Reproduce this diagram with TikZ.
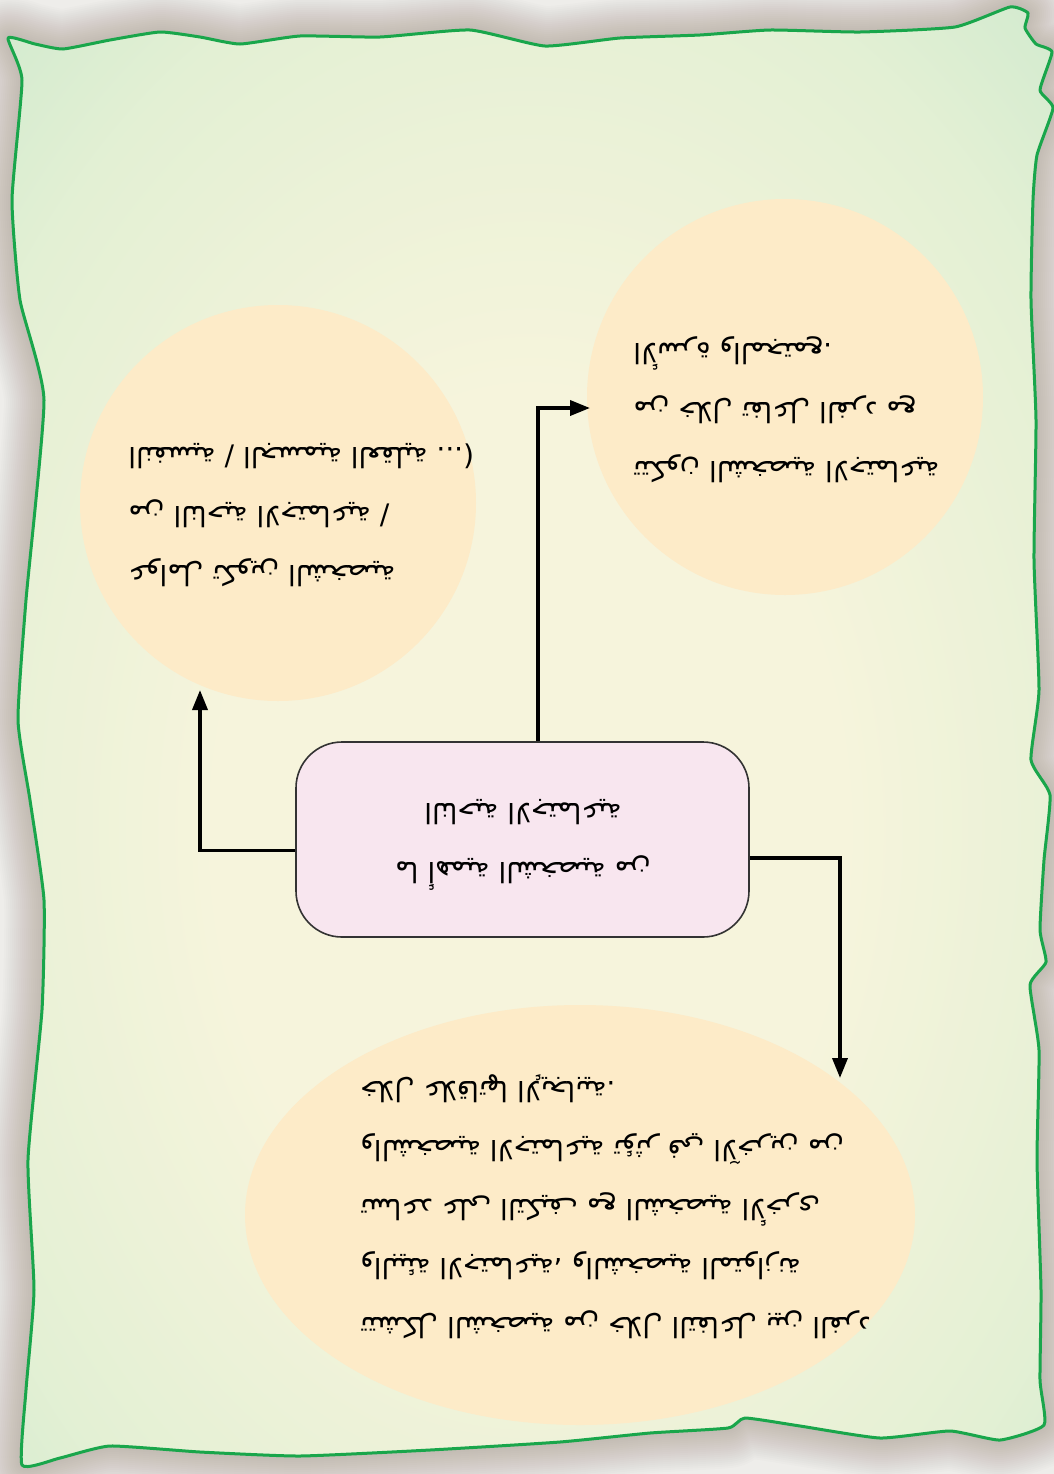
\documentclass[tikz,border=0pt]{standalone}
\usepackage{fontspec}
\newfontfamily\arabicfont[Script=Arabic]{DejaVu Sans}
\TeXXeTstate=1
\usetikzlibrary{arrows.meta,calc,shapes.geometric}
\definecolor{bgcol}{HTML}{EEEDEA}
\definecolor{papercream}{HTML}{F6F4DC}
\definecolor{papermid}{HTML}{E3F0D4}
\definecolor{papergreen2}{HTML}{C6E6CB}
\definecolor{papergreen}{HTML}{A8DABD}
\definecolor{edgegreen}{HTML}{19A64B}
\definecolor{bubble}{HTML}{FDEBC8}
\definecolor{boxpink}{HTML}{F8E6EF}
\pgfdeclareradialshading{paper}{\pgfpoint{0bp}{-4bp}}{color(0bp)=(papercream); color(15bp)=(papercream); color(30bp)=(papermid); color(42bp)=(papergreen2); color(53bp)=(papergreen); color(80bp)=(papergreen)}
\newcommand{\artxt}[1]{\beginR #1\endR}
\def\paperpath{plot[smooth cycle, tension=0.3] coordinates {(8,38) (35,44) (63,49) (110,40) (160,32) (200,37) (240,44) (300,36) (380,37) (470,30) (545,46) (620,38) (700,35) (770,30) (860,32) (955,27) (1010,7) (1028,13) (1025,28) (1036,44) (1052,52) (1040,90) (1053,108) (1037,155) (1033,200) (1031,300) (1036,420) (1034,560) (1039,690) (1031,760) (1050,795) (1044,860) (1040,930) (1046,962) (1030,985) (1039,1050) (1037,1160) (1041,1290) (1040,1380) (1044,1425) (1000,1440) (950,1431) (880,1438) (800,1426) (745,1418) (728,1428) (650,1433) (560,1442) (430,1450) (300,1456) (200,1452) (110,1446) (60,1458) (22,1465) (26,1390) (34,1290) (28,1160) (42,1010) (44,900) (30,800) (18,720) (26,600) (44,400) (20,300) (12,200) (22,80)}}
\tikzset{
  artext/.style={rotate=180, inner sep=0pt, text=black,
    font=\arabicfont\fontsize{14}{29.5}\selectfont},
  bubblenode/.style={fill=bubble, draw=none, inner sep=0pt},
  arr/.style={line width=1.8pt, black, -{Triangle[length=10pt,width=7.5pt]}},
}
\begin{document}
\begin{tikzpicture}[x=0.5pt,y=-0.5pt]
\fill[bgcol] (0,0) rectangle (1054,1474);
\useasboundingbox (0,0) rectangle (1054,1474);
% soft shadow
\foreach \i in {1,...,20}{
  \draw[line width=2*\i pt, black!70!brown, opacity=0.013, line join=round] \paperpath;
}
% paper
\shade[shading=paper] \paperpath;
\draw[edgegreen, line width=1.5pt, line join=round] \paperpath;
% bubbles
\node[bubblenode, circle, minimum size=198pt] (left) at (278,503) {};
\node[bubblenode, circle, minimum size=198pt] (right) at (785,397) {};
\node[bubblenode, ellipse, minimum width=335pt, minimum height=210pt] (bottom) at (580,1215) {};
% central box
\node[draw=black!80, line width=0.8pt, fill=boxpink, rounded corners=23pt,
  minimum width=226.5pt, minimum height=97.5pt, inner sep=0pt] (rect) at (522.5,839.5) {};
% arrow targets
\coordinate (a1) at (200,690);
\coordinate (a2) at (590,408);
\coordinate (a3) at (840,1078);
\draw[arr] ($(rect.west)+(0,11)$) -| (a1);
\draw[arr] ($(rect.north)+(15.5,0)$) |- (a2);
\draw[arr] ($(rect.east)+(0,18.5)$) -| (a3);
% texts (printed upside down, as in the picture)
\node[artext, align=center] (tc) at (523,845) {\artxt{ما أهمية الشخصية من}\\\artxt{الناحية الاجتماعية}};
\node[artext, align=right, anchor=east] (tl) at (128,515) {\artxt{عوامل تكوين الشخصية}\\\artxt{من الناحية الاجتماعية /}\\\artxt{النفسية / الجسمية العقلية ...)}};
\node[artext, align=right, anchor=east] (tr) at (633,410) {\artxt{تتكون الشخصية الاجتماعية}\\\artxt{من خلال تفاعل الفرد مع}\\\artxt{الأسرة والمجتمع.}};
\node[artext, align=right, anchor=east] (tb) at (360,1207) {\artxt{تتشكل الشخصية من خلال التفاعل بين الفرد}\\\artxt{والبيئة الاجتماعية، والشخصية المتوازنة}\\\artxt{تساعد على التكيف مع الشخصية الأخرى}\\\artxt{والشخصية الاجتماعية تؤثر في الآخرين من}\\\artxt{خلال علاقاتها الإيجابية.}};
\end{tikzpicture}
\end{document}
